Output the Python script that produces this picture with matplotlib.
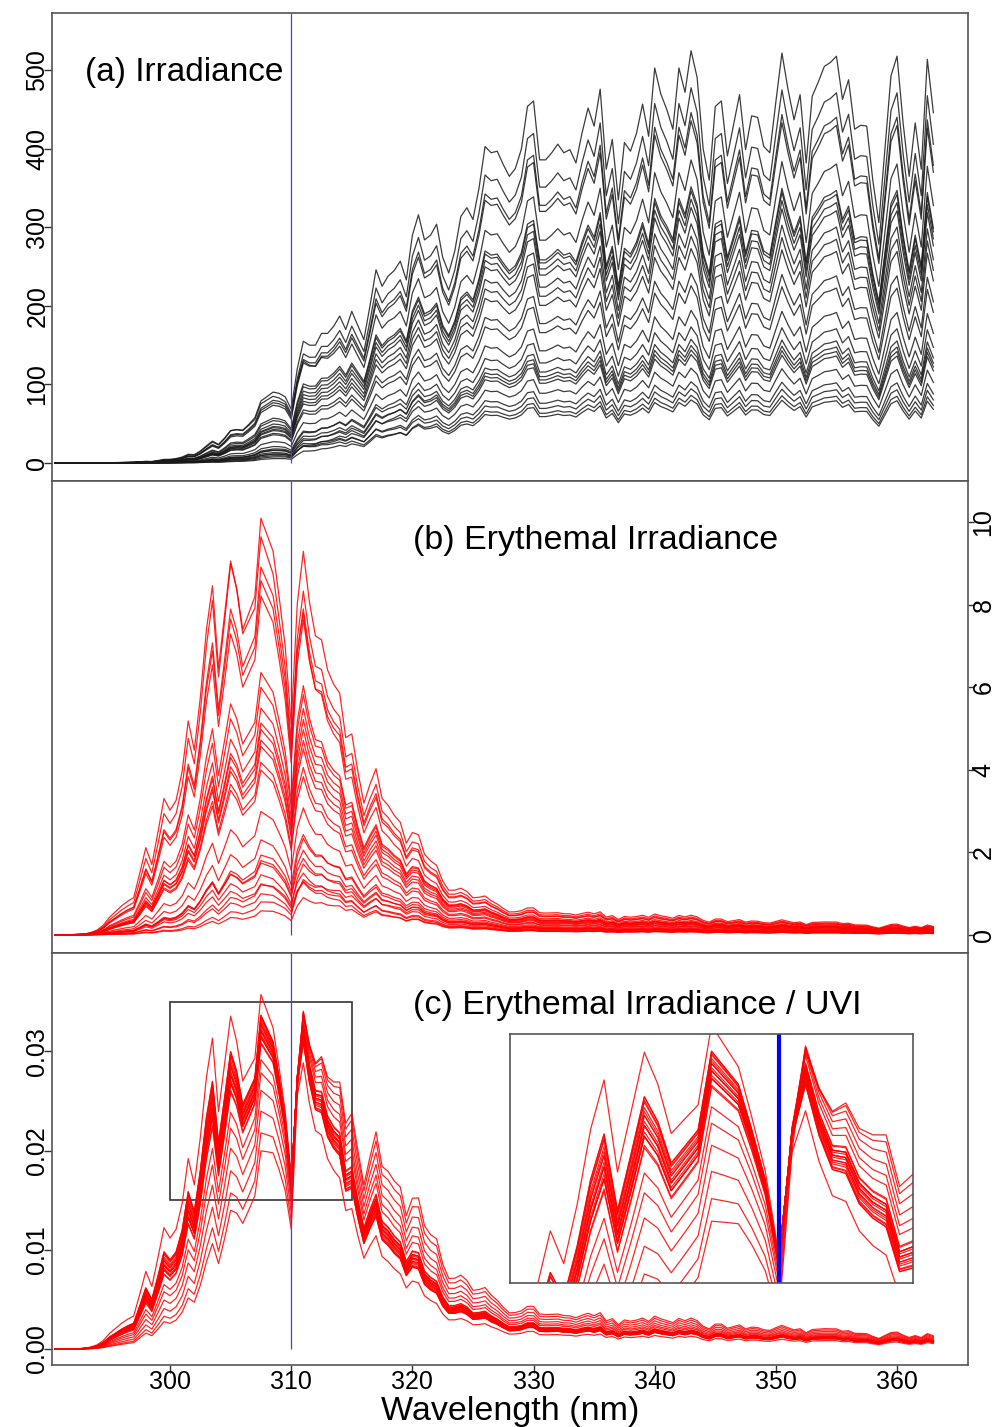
import numpy as np
import matplotlib
matplotlib.use("Agg")
import matplotlib.pyplot as plt
from matplotlib.patches import Rectangle

plt.rcParams['font.family'] = ['Liberation Sans', 'DejaVu Sans']

# wavelength grid of the spectra (nm), 0.5 nm steps
wl = np.arange(290.5, 363.01, 0.5)

# top spectrum, UV-B part (erythemal), 290.5 .. 310.0
ery_top_uvb = [0.0, 0.0, 0.0, 0.005, 0.01, 0.02, 0.05, 0.1, 0.2, 0.36,
               0.48, 0.6, 0.7, 0.78, 1.3, 1.85, 1.5, 2.2, 2.94, 2.7,
               2.94, 3.6, 4.76, 4.15, 5.4, 7.0, 8.1, 6.25, 7.6, 9.0,
               8.4, 7.4, 7.8, 8.2, 10.1, 9.7, 9.3, 8.2, 7.0, 5.1]

# top spectrum, UV-A part (irradiance), 310.5 .. 363.0
irr_top_uva = [120, 155, 150, 150, 165, 165, 174, 187, 170, 193,
               175, 157, 200, 246, 225, 238, 245, 257, 233, 290,
               316, 284, 290, 304, 262, 242, 270, 314, 325, 310,
               350, 403, 395, 397, 380, 365, 375, 400, 454, 461,
               386, 386, 395, 406, 395, 399, 382, 420, 452, 429,
               476, 374, 412, 335, 408, 397, 420, 457, 416, 503,
               470, 450, 425, 503, 472, 525, 491, 400, 360, 454,
               461, 391, 430, 469, 399, 442, 440, 403, 395, 460,
               522, 476, 437, 469, 382, 467, 485, 505, 510, 518,
               463, 488, 425, 430, 429, 360, 306, 400, 493, 518,
               433, 365, 433, 374, 514, 446]

# how strongly each wavelength follows a spectrum's UV-B factor (290.5 .. 322.0)
uvb_weight = [1.8, 1.8, 1.8, 1.8, 1.8, 1.8, 1.8, 1.8, 1.8, 1.8,
              1.78, 1.76, 1.74, 1.72, 1.7, 1.68, 1.66, 1.64, 1.62, 1.6,
              1.57, 1.54, 1.5, 1.46, 1.42, 1.38, 1.34, 1.3, 1.25, 1.2,
              1.16, 1.12, 1.08, 1.04, 1.0, 0.97, 0.94, 0.91, 0.88, 0.85,
              0.6, 0.5, 0.46, 0.42, 0.39, 0.36, 0.33, 0.3, 0.27, 0.25,
              0.22, 0.2, 0.18, 0.16, 0.14, 0.12, 0.1, 0.08, 0.07, 0.06,
              0.04, 0.03, 0.02, 0.0]

# per-spectrum level (relative to top, UV-A) and UV-B factor
scale = [1.00, 0.91, 0.85, 0.83, 0.735,
         0.67, 0.66, 0.64, 0.62, 0.58, 0.55, 0.52, 0.46, 0.43,
         0.37, 0.33, 0.30, 0.285, 0.274, 0.263, 0.23, 0.197, 0.18, 0.164, 0.153]
uvb_factor = [1.0, 0.97, 1.0, 0.98, 1.3,
              0.94, 0.9, 0.85, 0.82, 0.85, 0.85, 0.87, 0.9, 0.92,
              0.8, 0.58, 0.76, 0.42, 0.65, 0.3, 0.75, 0.5, 0.8, 0.35, 0.8]

split_wl = 310
zoom_x = (300, 315)
zoom_y = (0.015, 0.035)


def cie_erythema(x):
    return np.where(x <= 298, 1.0,
                    np.where(x <= 328, 10 ** (0.094 * (298 - x)),
                             10 ** (0.015 * (140 - x))))


act = cie_erythema(wl)
n_uvb = len(ery_top_uvb)
irr_top = np.concatenate([np.array(ery_top_uvb) / act[:n_uvb], irr_top_uva])
weight = np.concatenate([uvb_weight, np.zeros(len(wl) - len(uvb_weight))])

irr = np.array([s * u ** weight * irr_top for s, u in zip(scale, uvb_factor)])
ery = irr * act
ery_uvi = ery / ery.sum(axis=1, keepdims=True)

fig = plt.figure(figsize=(9.95, 14.27), dpi=100)
L, W = 0.0523, 0.9206
ax_a = fig.add_axes([L, 0.6629, W, 0.3280])
ax_b = fig.add_axes([L, 0.3322, W, 0.3307])
ax_c = fig.add_axes([L, 0.0435, W, 0.2887])
ax_in = fig.add_axes([0.5126, 0.1009, 0.4050, 0.1745])

spine_col = '#555555'
for ax in (ax_a, ax_b, ax_c, ax_in):
    for sp in ax.spines.values():
        sp.set_color(spine_col)
        sp.set_linewidth(1.2)
    ax.tick_params(width=1, color='#333333', labelsize=18)

for ax in (ax_a, ax_c):
    ax.tick_params(axis='y', length=5.5, pad=-3.6)
ax_c.tick_params(axis='x', length=5.5, pad=-1.5)
ax_b.tick_params(axis='y', length=4, pad=-1.5)

for ax in (ax_a, ax_b, ax_c):
    ax.set_xlim(290.26, 365.86)

line_kw = dict(lw=0.9, alpha=0.85)

# (a) irradiance
for y in irr:
    ax_a.plot(wl, y, color='#1a1a1a', **line_kw)
ax_a.set_ylim(-23, 573)
ax_a.vlines(split_wl, 0, 573, color='#4444cc', lw=0.9)
ax_a.set_xticks([])
ax_a.set_yticks(range(0, 501, 100))
ax_a.text(292.99, 497, '(a) Irradiance', fontsize=24, va='center', ha='left')

# (b) erythemal irradiance
for y in ery:
    ax_b.plot(wl, y, color='red', **line_kw)
ax_b.set_ylim(-0.44, 11.0)
ax_b.vlines(split_wl, 0, 11.0, color='#4444cc', lw=0.9)
ax_b.set_xticks([])
ax_b.yaxis.tick_right()
ax_b.set_yticks(range(0, 11, 2))
ax_b.text(320.05, 9.56, '(b) Erythemal Irradiance', fontsize=24.5, va='center', ha='left')

# (c) erythemal irradiance / UVI
for y in ery_uvi:
    ax_c.plot(wl, y, color='red', **line_kw)
ax_c.set_ylim(-0.0016, 0.0399)
ax_c.vlines(split_wl, 0, 0.0399, color='#4444cc', lw=0.9)
ax_c.set_xticks(range(300, 361, 10))
ax_c.set_yticks([0.0, 0.01, 0.02, 0.03])
ax_c.set_yticklabels(['0.00', '0.01', '0.02', '0.03'])
ax_c.add_patch(Rectangle((zoom_x[0], zoom_y[0]), zoom_x[1] - zoom_x[0], zoom_y[1] - zoom_y[0],
                         fill=False, ec='#333333', lw=1.2))
ax_c.text(320.05, 0.0346, '(c) Erythemal Irradiance / UVI', fontsize=24.5, va='center', ha='left')

# inset zoom
for y in ery_uvi:
    ax_in.plot(wl, y, color='red', **line_kw)
ax_in.axvline(split_wl, color='blue', lw=3)
ax_in.set_xlim(*zoom_x)
ax_in.set_ylim(*zoom_y)
ax_in.set_xticks([])
ax_in.set_yticks([])

for ax in (ax_a, ax_b, ax_c):
    for lbl in ax.get_yticklabels():
        lbl.set_rotation(90)
        lbl.set_va('center')

fig.text(0.5126, 0.0051, 'Wavelength (nm)', fontsize=24.5, ha='center', va='baseline')

fig.savefig('out.png', dpi=100)
